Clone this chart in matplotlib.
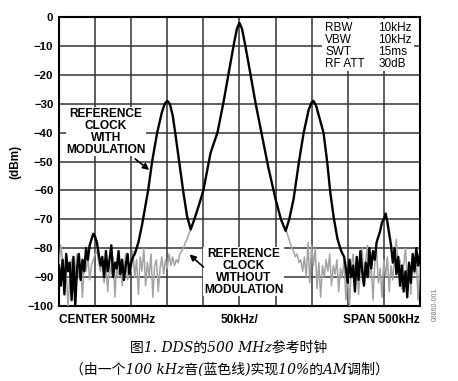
import numpy as np
import matplotlib
matplotlib.use("Agg")
from matplotlib import pyplot as plt
from matplotlib.patches import Rectangle

plt.rcParams['font.family'] = ['Liberation Sans', 'DejaVu Sans']

# trace with modulation (black), dBm per division position
black_left = [-86, -93, -84, -96, -82, -88, -85, -98, -83, -100,
              -87, -82, -91, -84, -88, -80, -84, -79, -77, -75,
              -76, -78, -82, -86, -83, -90, -81, -88, -84, -79,
              -90, -85, -87, -81, -89, -84, -91, -86, -82, -89,
              -85, -83, -82]
black_mid_x = [2.2, 2.3, 2.4, 2.47, 2.58, 2.72, 2.85, 2.93, 3.0, 3.07, 3.15, 3.22,
               3.35, 3.45, 3.55, 3.65, 3.75, 3.88, 4.0, 4.2, 4.39, 4.55, 4.72,
               4.85, 4.93, 5.0, 5.07, 5.15, 5.28, 5.45, 5.61, 5.8, 6.0, 6.15,
               6.28, 6.38, 6.5, 6.65, 6.78, 6.92, 7.0, 7.05, 7.12, 7.22, 7.33,
               7.43, 7.52, 7.62, 7.72, 7.82]
black_mid_y = [-78, -72, -65, -60, -50, -40, -33, -30, -29, -30, -34, -40,
               -52, -61, -69, -73.5, -70, -65, -60, -47, -40, -30, -18,
               -9, -4, -2, -4, -9, -18, -30, -40, -52, -63, -70,
               -74, -70, -63, -50, -40, -32, -29.5, -29, -30.5, -35, -40,
               -50, -61, -70, -77, -81]
black_right = [-83, -87, -92, -84, -90, -86, -95, -83, -91, -81,
               -88, -93, -85, -90, -80, -87, -81, -84, -78, -76,
               -74, -71, -70, -68, -71, -75, -79, -85, -80, -89,
               -83, -93, -86, -95, -88, -97, -85, -92, -82, -88,
               -80, -86, -82]

# trace without modulation (grey)
grey_left = [-86, -79, -84, -92, -88, -100, -90, -84, -95, -87,
             -82, -90, -86, -97, -85, -88, -83, -91, -86, -84,
             -82, -81, -85, -88, -84, -92, -86, -95, -85, -89,
             -83, -97, -86, -90, -84, -93, -87, -82, -91, -85,
             -88, -81, -90, -84, -96, -83, -88, -80, -93, -85,
             -90, -82, -97, -86, -84, -95, -87, -83, -89, -84,
             -87, -82, -86, -83, -86, -84, -85, -82, -81, -80,
             -78, -77, -75, -73.5]
grey_right = [-74, -76, -78, -80, -81, -83, -82, -85, -84, -88,
              -83, -90, -78, -92, -79, -86, -80, -94, -85, -97,
              -86, -90, -84, -88, -82, -93, -86, -89, -84, -95,
              -87, -90, -84, -98, -88, -100, -86, -82, -91, -85,
              -96, -88, -80, -92, -84, -79, -90, -86, -98, -85,
              -81, -92, -87, -97, -84, -90, -83, -95, -86, -91,
              -82, -77, -88, -84, -94, -86, -80, -91, -85, -96,
              -82, -89, -84, -98, -86]

y_ticks = [0, -10, -20, -30, -40, -50, -60, -70, -80, -90, -100]
settings = [("RBW", "10kHz"), ("VBW", "10kHz"), ("SWT", "15ms"), ("RF ATT", "30dB")]

bx = np.concatenate([np.linspace(0, 2.1, len(black_left)), black_mid_x,
                     np.linspace(7.9, 10, len(black_right))])
by = np.concatenate([black_left, black_mid_y, black_right])

fig = plt.figure(figsize=(4.58, 3.81), dpi=100)
ax = fig.add_axes([0.1288, 0.197, 0.788, 0.758])

ax.plot(np.linspace(0, 3.65, len(grey_left)), grey_left, color='#a3a3a3', lw=1.1, zorder=3)
ax.plot(np.linspace(6.3, 10, len(grey_right)), grey_right, color='#a3a3a3', lw=1.1, zorder=3)
ax.plot(bx, by, color='black', lw=1.7, zorder=4)

ax.set_xlim(0, 10)
ax.set_ylim(-100, 0)
ax.set_xticks(range(11))
ax.set_xticklabels([])
ax.set_yticks(y_ticks)
ax.set_yticklabels([str(t).replace('-', '\u2212') for t in y_ticks], fontweight='bold', fontsize=8.2)
ax.tick_params(length=0, pad=4)
ax.set_axisbelow(True)
ax.grid(True, color='#333333', lw=1.1)
for s in ax.spines.values():
    s.set_linewidth(1.5)

fig.text(0.033, 0.575, "(dBm)", rotation=90, ha='center', va='center', fontweight='bold', fontsize=8.5)

# settings box
ax.add_patch(Rectangle((7.3, -18.5), 2.55, 18.0, facecolor='white', edgecolor='none', zorder=1))
for i, (k, v) in enumerate(settings):
    yy = -3.8 - i * 4.15
    ax.text(7.38, yy, k, fontsize=8.5, va='center', ha='left', zorder=2)
    ax.text(8.85, yy, v, fontsize=8.5, va='center', ha='left', zorder=2)

lbl = dict(fontsize=8.6, fontweight='bold', ha='center', va='center', linespacing=1.0,
           bbox=dict(facecolor='white', edgecolor='none', pad=0.5))
ax.text(1.3, -39.6, "REFERENCE\nCLOCK\nWITH\nMODULATION", zorder=5, **lbl)
ax.annotate("", xy=(2.56, -53.5), xytext=(2.05, -48.5), zorder=5,
            arrowprops=dict(arrowstyle='-|>', color='black', lw=1.2, mutation_scale=9))
ax.text(5.12, -88.1, "REFERENCE\nCLOCK\nWITHOUT\nMODULATION", zorder=5, **lbl)
ax.annotate("", xy=(3.56, -81.5), xytext=(4.06, -87.2), zorder=5,
            arrowprops=dict(arrowstyle='-|>', color='black', lw=1.2, mutation_scale=9))

ax.text(0.0, -0.05, "CENTER 500MHz", transform=ax.transAxes, ha='left', va='center',
        fontweight='bold', fontsize=8.6)
ax.text(0.5, -0.05, "50kHz/", transform=ax.transAxes, ha='center', va='center',
        fontweight='bold', fontsize=8.6)
ax.text(1.0, -0.05, "SPAN 500kHz", transform=ax.transAxes, ha='right', va='center',
        fontweight='bold', fontsize=8.6)

fig.text(0.95, 0.2, "06860-001", rotation=90, ha='center', va='center', fontsize=5, color='#777777')

cap = dict(ha='center', va='center', fontsize=10, style='italic',
           family=['DejaVu Serif', 'Noto Sans CJK SC'])
fig.text(0.5, 0.087, "图1. DDS的500 MHz参考时钟", **cap)
fig.text(0.5, 0.029, "（由一个100 kHz音(蓝色线)实现10%的AM调制）", **cap)

fig.savefig("out.png", dpi=100)
